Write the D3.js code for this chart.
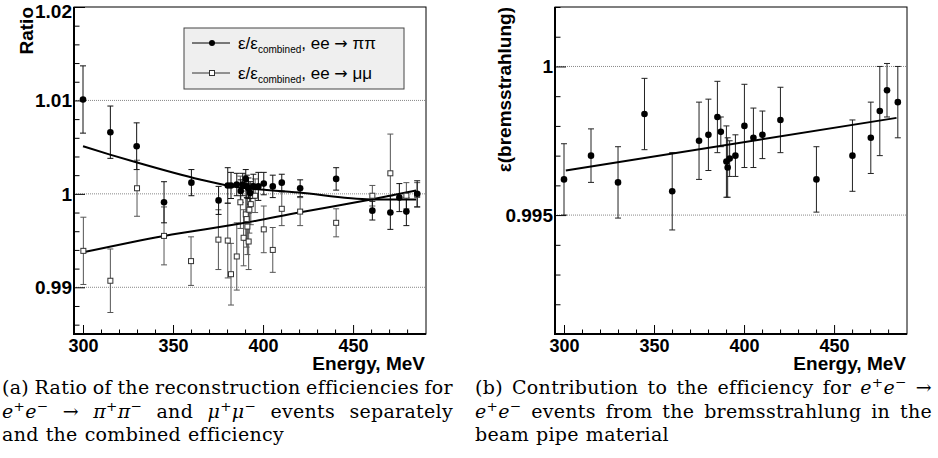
<!DOCTYPE html>
<html>
<head>
<meta charset="utf-8">
<script src="https://cdn.jsdelivr.net/npm/d3@7"></script>
<style>
  body { margin: 0; background: #fff; }
</style>
</head>
<body>
<svg id="chart" width="938" height="458"></svg>
<script>
// ---- Data ----
// (a) ee -> pi pi, filled circles
const energyPiPi = [300, 315.2, 329.8, 345, 360.2, 375.3, 380.4, 382.2, 385.4, 387.6, 388.7, 390.4, 391.0, 391.9, 392.8, 394.6, 397.4, 400.4, 405.4, 410.4, 420.6, 440.6, 460.7, 470.7, 475.7, 479.6, 485.6];
const ratioPiPi = [1.0101, 1.0066, 1.0051, 0.9991, 1.0012, 0.9993, 1.0009, 1.0009, 1.0010, 1.0003, 1.0010, 1.0016, 1.0008, 1.0006, 1.0001, 1.0008, 1.0008, 1.0011, 1.0008, 1.0012, 1.0006, 1.0016, 0.9982, 0.9980, 0.9996, 0.9981, 1.0000];
const errPiPi = [0.0036, 0.0028, 0.0025, 0.0022, 0.0014, 0.0015, 0.0019, 0.0014, 0.0012, 0.0012, 0.0012, 0.0010, 0.0012, 0.0011, 0.0012, 0.0013, 0.0015, 0.0012, 0.0012, 0.0009, 0.0009, 0.0012, 0.0010, 0.0018, 0.0015, 0.0015, 0.0014];

// (a) ee -> mu mu, open squares
const energyMuMu = [300.2, 315.2, 330, 345, 360, 375.2, 380.4, 382.2, 385.4, 387.4, 389.2, 390.4, 390.9, 391.3, 392.0, 392.4, 393.2, 395.6, 400.4, 405.4, 410.4, 420.6, 440.6, 460.7, 470.7, 479.6, 485.6];
const ratioMuMu = [0.9939, 0.9907, 1.0006, 0.9955, 0.9928, 0.9951, 0.9950, 0.9914, 0.9933, 0.9991, 0.9953, 0.9978, 0.9973, 0.9965, 0.9949, 0.9983, 0.9989, 0.9998, 0.9962, 0.9940, 0.9984, 0.9981, 0.9969, 0.9998, 1.0022, 0.9998, 0.9999];
const errMuMu = [0.0036, 0.0034, 0.0030, 0.0031, 0.0026, 0.0032, 0.0040, 0.0033, 0.0036, 0.0028, 0.0030, 0.0028, 0.0030, 0.0030, 0.0030, 0.0025, 0.0022, 0.0018, 0.0025, 0.0024, 0.0018, 0.0015, 0.0015, 0.0011, 0.0042, 0.0014, 0.0013];

// (a) fitted curves
const fitPiPiE = [300, 315, 330, 365, 380, 420, 460, 485];
const fitPiPiR = [1.0051, 1.0042, 1.00335, 1.00153, 1.00089, 1.00014, 0.9994, 0.9994];
const fitMuMuE = [300, 345, 390, 420, 460, 485];
const fitMuMuR = [0.99375, 0.9955, 0.9969, 0.9980, 0.9994, 1.00035];

// (b) bremsstrahlung contribution
const energyBrems = [300, 315, 330, 344.7, 360.1, 375, 380.2, 385.2, 387.1, 390.2, 390.9, 392, 395.2, 400.2, 405.2, 410.2, 420.2, 440.2, 460.2, 470.4, 475.4, 479.4, 485.4];
const effBrems = [0.9962, 0.9970, 0.9961, 0.9984, 0.9958, 0.9975, 0.9977, 0.9983, 0.9978, 0.9968, 0.9966, 0.9969, 0.9970, 0.9980, 0.9976, 0.9977, 0.9982, 0.9962, 0.9970, 0.9976, 0.9985, 0.9992, 0.9988];
const errBrems = [0.0012, 0.0009, 0.0012, 0.0012, 0.0013, 0.0013, 0.0012, 0.0012, 0.0005, 0.0012, 0.0010, 0.0006, 0.0007, 0.0014, 0.0010, 0.0008, 0.0011, 0.0011, 0.0012, 0.0012, 0.0015, 0.0009, 0.0012];
const fitBremsE = [301, 484.7];
const fitBremsR = [0.9965, 0.99827];

// axis ticks
const xMajorTicks = [300, 350, 400, 450];
const yMajorTicksA = [1.02, 1.01, 1, 0.99];
const yMajorTicksB = [1, 0.995];
const legendLabels = ['ee ', 'ee '];
const legendFinal = ['\u03c0\u03c0', '\u03bc\u03bc'];

const captionA = [
  '(a) Ratio of the reconstruction efficiencies for',
  '$e^+e^-$ \u2192 $\u03c0^+\u03c0^-$ and $\u03bc^+\u03bc^-$ events separately',
  'and the combined efficiency'
];
const captionB = [
  '(b) Contribution to the efficiency for $e^+e^-$ \u2192',
  '$e^+e^-$ events from the bremsstrahlung in the',
  'beam pipe material'
];

// ---- Setup ----
const SANS = '"Liberation Sans", Arial, Helvetica, sans-serif';
const SERIF = '"DejaVu Serif", serif';
const translate = (x, y) => `translate(${x}, ${y})`;
const svg = d3.select('#chart');

const xDomain = [295, 490.5];
const frameTop = 7, frameBottom = 334;

function drawPanel({ left, right, yDomain, yMajor, yMinor, yFmt, yTitle, yTitleX }) {
  const g = svg.append('g');
  const x = d3.scaleLinear(xDomain, [left, right]);
  const y = d3.scaleLinear(yDomain, [frameBottom, frameTop]);

  // grid at major y values
  g.selectAll('line.grid')
    .data(yMajor.filter(v => v > yDomain[0] && v < yDomain[1]))
    .join('line')
    .attr('class', 'grid')
    .attr('x1', left).attr('x2', right)
    .attr('y1', d => y(d)).attr('y2', d => y(d))
    .attr('stroke', '#888')
    .attr('stroke-width', 1)
    .attr('stroke-dasharray', '1,1');

  // x minor / major ticks (pointing inward)
  const xMinor = d3.range(300, 481, 10).filter(v => !xMajorTicks.includes(v));
  g.append('g')
    .attr('transform', translate(0, frameBottom))
    .call(d3.axisBottom(x).tickValues(xMinor).tickSizeInner(-4.5).tickSizeOuter(0))
    .call(a => a.select('.domain').remove())
    .call(a => a.selectAll('text').remove());
  g.append('g')
    .attr('transform', translate(0, frameBottom))
    .call(d3.axisBottom(x).tickValues(xMajorTicks).tickSizeInner(-9).tickSizeOuter(0).tickPadding(5))
    .call(a => a.select('.domain').remove())
    .call(a => a.selectAll('text')
      .attr('font-family', SANS).attr('font-weight', 'bold').attr('font-size', 18).attr('fill', '#000'));

  // y minor / major ticks
  g.append('g')
    .attr('transform', translate(left, 0))
    .call(d3.axisLeft(y).tickValues(yMinor).tickSizeInner(-5.5).tickSizeOuter(0))
    .call(a => a.select('.domain').remove())
    .call(a => a.selectAll('text').remove());
  g.append('g')
    .attr('transform', translate(left, 0))
    .call(d3.axisLeft(y).tickValues(yMajor).tickSizeInner(-11).tickSizeOuter(0).tickPadding(2).tickFormat(yFmt))
    .call(a => a.select('.domain').remove())
    .call(a => a.selectAll('text')
      .attr('font-family', SANS).attr('font-weight', 'bold').attr('font-size', 19).attr('fill', '#000')
      .attr('dy', null)
      .attr('y', d => Math.max(y(d) + 6.5, 17) - y(d)));

  // frame
  g.append('rect')
    .attr('x', left).attr('y', frameTop)
    .attr('width', right - left).attr('height', frameBottom - frameTop)
    .attr('fill', 'none').attr('stroke', '#000').attr('stroke-width', 1);
  g.append('path')
    .attr('d', `M${left},${frameTop}V${frameBottom}H${right}`)
    .attr('fill', 'none').attr('stroke', '#000').attr('stroke-width', 2);

  // titles
  g.append('text')
    .attr('transform', translate(right - 1, 370))
    .attr('text-anchor', 'end')
    .attr('font-family', SANS).attr('font-weight', 'bold').attr('font-size', 19)
    .text('Energy, MeV');
  g.append('text')
    .attr('transform', `${translate(yTitleX, frameTop)} rotate(-90)`)
    .attr('text-anchor', 'end')
    .attr('font-family', SANS).attr('font-weight', 'bold').attr('font-size', 19)
    .text(yTitle);

  return { g, x, y };
}

function drawErrors(g, x, y, es, vs, errs, color) {
  const idx = d3.range(es.length);
  const bars = g.append('g').attr('stroke', color).attr('stroke-width', 1).attr('fill', 'none');
  bars.selectAll('path')
    .data(idx)
    .join('path')
    .attr('d', i => {
      const px = x(es[i]), y1 = y(vs[i] + errs[i]), y2 = y(vs[i] - errs[i]);
      return `M${px},${y1}V${y2}M${px - 3},${y1}H${px + 3}M${px - 3},${y2}H${px + 3}`;
    });
}

function drawCurve(g, x, y, es, vs, curve) {
  const line = d3.line().x(i => x(es[i])).y(i => y(vs[i])).curve(curve);
  g.append('path')
    .attr('d', line(d3.range(es.length)))
    .attr('fill', 'none').attr('stroke', '#000').attr('stroke-width', 2);
}

function drawCircles(g, x, y, es, vs) {
  g.append('g').selectAll('circle')
    .data(d3.range(es.length))
    .join('circle')
    .attr('cx', i => x(es[i])).attr('cy', i => y(vs[i]))
    .attr('r', 3.3).attr('fill', '#000');
}

function drawSquares(g, x, y, es, vs) {
  g.append('g').selectAll('rect')
    .data(d3.range(es.length))
    .join('rect')
    .attr('x', i => x(es[i]) - 2.5).attr('y', i => y(vs[i]) - 2.5)
    .attr('width', 5).attr('height', 5)
    .attr('fill', '#fff').attr('stroke', '#333').attr('stroke-width', 1);
}

// ---- Panel (a) ----
const fmtA = d => d === 1 ? '1' : d3.format('.2f')(d);
const yMinorA = d3.range(0, 18).map(i => +(0.986 + i * 0.002).toFixed(3)).filter(v => !yMajorTicksA.some(m => Math.abs(m - v) < 1e-6));
const A = drawPanel({
  left: 74, right: 426, yDomain: [0.985, 1.02], yMajor: yMajorTicksA, yMinor: yMinorA,
  yFmt: fmtA, yTitle: 'Ratio', yTitleX: 33
});
drawErrors(A.g, A.x, A.y, energyMuMu, ratioMuMu, errMuMu, '#555');
drawErrors(A.g, A.x, A.y, energyPiPi, ratioPiPi, errPiPi, '#111');
drawCurve(A.g, A.x, A.y, fitPiPiE, fitPiPiR, d3.curveMonotoneX);
drawCurve(A.g, A.x, A.y, fitMuMuE, fitMuMuR, d3.curveMonotoneX);
drawSquares(A.g, A.x, A.y, energyMuMu, ratioMuMu);
drawCircles(A.g, A.x, A.y, energyPiPi, ratioPiPi);

// legend
const legend = A.g.append('g');
legend.append('rect')
  .attr('x', 184).attr('y', 28).attr('width', 220).attr('height', 61)
  .attr('fill', '#efefef').attr('stroke', '#444').attr('stroke-width', 1);
legendLabels.forEach((label, i) => {
  const ly = 43 + i * 30;
  legend.append('line')
    .attr('x1', 192).attr('x2', 230).attr('y1', ly).attr('y2', ly)
    .attr('stroke', i === 0 ? '#000' : '#333').attr('stroke-width', 1);
  if (i === 0) {
    legend.append('circle').attr('cx', 212).attr('cy', ly).attr('r', 3).attr('fill', '#000');
  } else {
    legend.append('rect').attr('x', 209.5).attr('y', ly - 2.5).attr('width', 5).attr('height', 5)
      .attr('fill', '#fff').attr('stroke', '#333');
  }
  const t = legend.append('text')
    .attr('x', 238).attr('y', ly + 6)
    .attr('font-family', SANS).attr('font-size', 17);
  t.append('tspan').text('\u03b5/\u03b5');
  t.append('tspan').attr('font-size', 10).attr('dy', 4).text('combined');
  t.append('tspan').attr('dy', -4).text(', ' + label);
  t.append('tspan').attr('font-family', '"DejaVu Sans", sans-serif').attr('font-size', 16).text('\u2192');
  t.append('tspan').text(' ' + legendFinal[i]);
});

// ---- Panel (b) ----
const fmtB = d => d === 1 ? '1' : d3.format('.3f')(d);
const yMinorB = d3.range(0, 11).map(i => +(0.992 + i * 0.001).toFixed(3)).filter(v => !yMajorTicksB.some(m => Math.abs(m - v) < 1e-6));
const B = drawPanel({
  left: 555, right: 907, yDomain: [0.991, 1.002], yMajor: yMajorTicksB, yMinor: yMinorB,
  yFmt: fmtB, yTitle: '\u03b5(bremsstrahlung)', yTitleX: 511
});
drawErrors(B.g, B.x, B.y, energyBrems, effBrems, errBrems, '#222');
drawCurve(B.g, B.x, B.y, fitBremsE, fitBremsR, d3.curveLinear);
drawCircles(B.g, B.x, B.y, energyBrems, effBrems);

// ---- Captions ----
function richWord(textSel, word) {
  let math = false, shift = 0;
  const chars = Array.from(word);
  const parts = [];
  for (let i = 0; i < chars.length; i++) {
    let c = chars[i];
    if (c === '$') { math = !math; continue; }
    let sup = false;
    if (c === '^') { sup = true; c = chars[++i]; }
    if (c === '-' && math) c = '\u2212';
    parts.push({ c, sup, italic: math && /[a-z\u03b1-\u03c9]/.test(c) });
  }
  // merge consecutive plain chars into one tspan
  parts.forEach(p => {
    const last = textSel.node().lastChild;
    const target = p.sup ? -7 : 0;
    if (!p.sup && !p.italic && target === shift && last && last.__plain) {
      last.textContent += p.c;
      return;
    }
    const t = textSel.append('tspan').text(p.c);
    if (p.italic) t.attr('font-style', 'italic');
    if (target !== shift) { t.attr('dy', target - shift); shift = target; }
    if (p.sup) t.attr('font-size', 13.5);
    t.node().__plain = !p.sup && !p.italic;
  });
}

function drawCaption(lines, x0, x1, y0) {
  const g = svg.append('g').attr('font-family', SERIF).attr('font-size', 19)
    .attr('letter-spacing', 0.3).attr('fill', '#000');
  lines.forEach((line, li) => {
    const words = line.split(' ');
    const justify = li < lines.length - 1;
    const texts = words.map(w => {
      const t = g.append('text').attr('y', y0 + li * 23.5);
      richWord(t, w);
      return t;
    });
    const widths = texts.map(t => t.node().getComputedTextLength());
    const total = d3.sum(widths);
    const gap = justify ? Math.max((x1 - x0 - total) / (words.length - 1), 4) : 7;
    let cx = x0;
    texts.forEach((t, i) => { t.attr('x', cx); cx += widths[i] + gap; });
  });
}
drawCaption(captionA, 2, 453, 394);
drawCaption(captionB, 475, 932, 394);
</script>
</body>
</html>
